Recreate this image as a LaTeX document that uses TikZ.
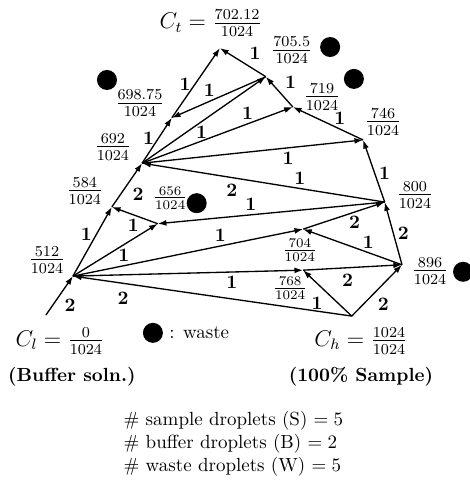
\documentclass[tikz,border=0pt]{standalone}
\usepackage{amsmath,amssymb}
\usepackage{tikz}
\usetikzlibrary{arrows.meta, positioning}
\tikzset{
  mixarrow/.style={
    -{Latex[length=1.6mm, width=1.1mm]}, line width=0.7pt
  },
  droplabel/.style={
    font=\bfseries, inner sep=2pt
  },
  conclabel/.style={
    font=\large, inner sep=1pt
  },
  conclabelsmall/.style={
    font=\normalsize, inner sep=1pt
  },
  wastedot/.style={
    circle, fill=black, minimum size=0.37cm, inner sep=0pt
  },
  captionlabel/.style={
    font=\bfseries, inner sep=1pt
  },
}

\begin{document}
\begin{tikzpicture}
  \useasboundingbox (0,0) rectangle (8.68,-9.05);

  % Mixing points
  \coordinate (cl) at (0.85,-5.83);
  \coordinate (ch) at (6.51,-5.85);
  \coordinate (ct) at (4.07,-0.89);
  \coordinate (n512) at (1.35,-5.11);
  \coordinate (n584) at (2.07,-3.83);
  \coordinate (n656) at (2.92,-4.14);
  \coordinate (n692) at (2.63,-3.02);
  \coordinate (n698) at (3.18,-2.18);
  \coordinate (n705) at (4.92,-1.42);
  \coordinate (n719) at (5.42,-1.98);
  \coordinate (n746) at (6.72,-2.59);
  \coordinate (n800) at (7.12,-3.74);
  \coordinate (n704) at (5.61,-4.24);
  \coordinate (n896) at (7.44,-4.90);
  \coordinate (n768) at (5.61,-5.00);

  % Concentration labels
  \node[conclabel] (lct) at (3.90,-0.43) {$C_t = \frac{702.12}{1024}$};
  \node[conclabel] (l698) at (2.59,-1.91) {$\frac{698.75}{1024}$};
  \node[conclabel] (l692) at (2.09,-2.72) {$\frac{692}{1024}$};
  \node[conclabel] (l584) at (1.57,-3.53) {$\frac{584}{1024}$};
  \node[conclabel] (l512) at (0.87,-4.81) {$\frac{512}{1024}$};
  \node[conclabelsmall] (l656) at (3.15,-3.66) {$\frac{656}{1024}$};
  \node[conclabel] (l705) at (5.40,-0.93) {$\frac{705.5}{1024}$};
  \node[conclabel] (l719) at (5.96,-1.79) {$\frac{719}{1024}$};
  \node[conclabel] (l746) at (7.09,-2.26) {$\frac{746}{1024}$};
  \node[conclabel] (l800) at (7.68,-3.61) {$\frac{800}{1024}$};
  \node[conclabel] (l896) at (7.96,-5.01) {$\frac{896}{1024}$};
  \node[conclabelsmall] (l704) at (5.55,-4.63) {$\frac{704}{1024}$};
  \node[conclabelsmall] (l768) at (5.37,-5.33) {$\frac{768}{1024}$};
  \node[conclabel] (lcl) at (1.11,-6.31) {$C_l = \frac{0}{1024}$};
  \node[conclabel] (lch) at (6.68,-6.31) {$C_h = \frac{1024}{1024}$};

  % Waste droplets
  \node[wastedot] (w698) at (1.98,-1.48) {};
  \node[wastedot] (w705) at (6.11,-0.87) {};
  \node[wastedot] (w719) at (6.55,-1.46) {};
  \node[wastedot] (w656) at (3.64,-3.76) {};
  \node[wastedot] (w896) at (8.57,-5.03) {};

  % Buffer side
  \draw[mixarrow] (cl) -- node[droplabel, pos=.53, below right] {2} (n512);
  \draw[mixarrow] (n512) -- node[droplabel, pos=.6, left] {1} (n584);
  \draw[mixarrow] (n584) -- node[droplabel, pos=.54, below right] {2} (n692);
  \draw[mixarrow] (n692) -- node[droplabel, pos=.55, left] {1} (n698);
  \draw[mixarrow] (n698) -- node[droplabel, pos=.48, left] {1} (ct);

  % Sample side
  \draw[mixarrow] (ch) -- node[droplabel, pos=.51, below left] {1} (n768);
  \draw[mixarrow] (ch) -- node[droplabel, pos=.43, below right] {2} (n896);
  \draw[mixarrow] (ch) -- node[droplabel, pos=.82, below=2pt] {2} (n512);
  \draw[mixarrow] (n768) -- node[droplabel, pos=.45, below=1pt] {2} (n896);
  \draw[mixarrow] (n896) -- node[droplabel, pos=.34, above] {1} (n704);
  \draw[mixarrow] (n896) -- node[droplabel, pos=.5, right] {2} (n800);
  \draw[mixarrow] (n704) -- node[droplabel, pos=.63, below] {2} (n800);
  \draw[mixarrow] (n800) -- node[droplabel, pos=.47, right] {1} (n746);

  % Cross mixes
  \draw[mixarrow] (n512) -- node[droplabel, pos=.69, below] {1} (n768);
  \draw[mixarrow] (n512) -- node[droplabel, pos=.64, above] {1} (n704);
  \draw[mixarrow] (n512) -- node[droplabel, pos=.6, below] {1} (n656);
  \draw[mixarrow] (n656) -- node[droplabel, pos=.53, below] {1} (n584);
  \draw[mixarrow] (n800) -- node[droplabel, pos=.59, above] {1} (n656);
  \draw[mixarrow] (n800) -- node[droplabel, pos=.35, above] {1} (n692);
  \draw[mixarrow] (n692) -- node[droplabel, pos=.66, below] {1} (n746);
  \draw[mixarrow] (n692) -- node[droplabel, pos=.7, above] {1} (n719);
  \draw[mixarrow] (n692) -- node[droplabel, pos=.48, below] {1} (n705);
  \draw[mixarrow] (n746) -- node[droplabel, pos=.33, above] {1} (n719);
  \draw[mixarrow] (n719) -- node[droplabel, pos=.45, above right] {1} (n705);
  \draw[mixarrow] (n705) -- node[droplabel, pos=.6, above] {1} (n698);
  \draw[mixarrow] (n705) -- node[droplabel, pos=.45, above right] {1} (ct);
  \node[droplabel] (extra2) at (4.29,-3.52) {2};

  % Legend and captions
  \node[wastedot] (wlegend) at (2.83,-6.16) {};
  \node[anchor=west, inner sep=3pt] (wtext) at (wlegend.east) {: waste};
  \node[captionlabel] (cbuf) at (1.33,-6.97) {(Buffer soln.)};
  \node[captionlabel] (csam) at (6.68,-6.97) {(100\% Sample)};
  \node[align=left, anchor=west, inner sep=0pt] (stats) at (2.28,-8.21)
    {\# sample droplets (S) $= 5$\\
     \# buffer droplets (B) $= 2$\\
     \# waste droplets (W) $= 5$};
\end{tikzpicture}
\end{document}
